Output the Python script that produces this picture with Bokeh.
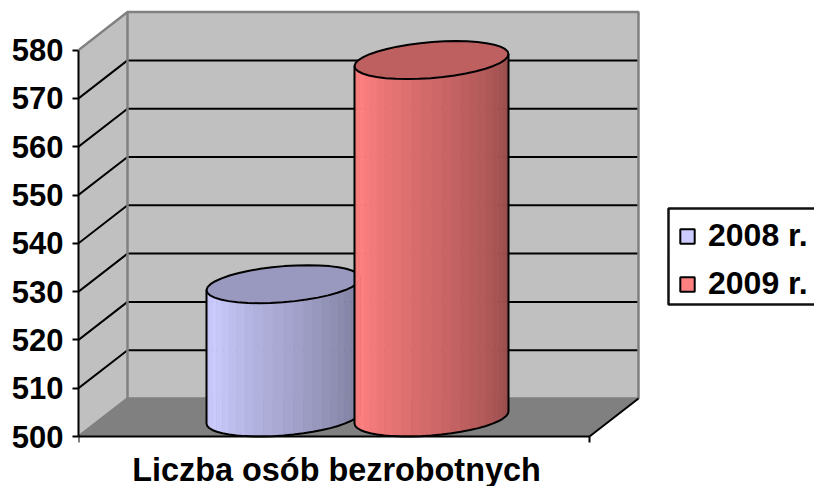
import math
from bokeh.plotting import figure
from bokeh.models import FixedTicker, Legend, LegendItem, Range1d, Label
from bokeh.embed import file_html
from bokeh.resources import INLINE

category = "Liczba osób bezrobotnych"
years = ["2008 r.", "2009 r."]
values = [527.6, 574.0]
y_ticks = [500, 510, 520, 530, 540, 550, 560, 570, 580]
bar_colors = [(204, 204, 255), (255, 128, 128)]
top_colors = ["#9999BF", "#BF6060"]

FONT = "Liberation Sans"
PX_PER_UNIT = 4.83
PLOT_W = 511
DX = 49
DV = 38 / PX_PER_UNIT
RX = 73
BAR_STEP = 148
Y0, Y1 = y_ticks[0], y_ticks[-1]

p = figure(width=814, height=486, output_backend="svg", toolbar_location=None,
           x_range=Range1d(0, 736), y_range=Range1d(Y0 - 50 / PX_PER_UNIT, Y0 + 436 / PX_PER_UNIT),
           min_border_left=78, min_border_right=0, min_border_top=0, min_border_bottom=0,
           background_fill_color="white", border_fill_color="white", outline_line_color=None)
p.grid.visible = False

# walls and floor
p.patch([0, DX, DX, 0], [Y0, Y0 + DV, Y1 + DV, Y1], fill_color="#C0C0C0", line_color=None)
p.patch([DX, PLOT_W + DX, PLOT_W + DX, DX], [Y0 + DV, Y0 + DV, Y1 + DV, Y1 + DV],
        fill_color="#C0C0C0", line_color=None)
p.patch([0, PLOT_W, PLOT_W + DX, DX], [Y0, Y0, Y0 + DV, Y0 + DV], fill_color="#808080", line_color=None)

for t in y_ticks[1:-1]:
    p.line([0, DX, PLOT_W + DX], [t, t + DV, t + DV], line_color="black", line_width=2)

edge = dict(line_color="#808080", line_width=2.5)
p.line([0, DX, PLOT_W + DX, PLOT_W + DX, DX, 0], [Y1, Y1 + DV, Y1 + DV, Y0 + DV, Y0 + DV, Y0], **edge)
p.line([DX, DX], [Y0 + DV, Y1 + DV], **edge)
p.line([PLOT_W, PLOT_W + DX], [Y0, Y0 + DV], line_color="black", line_width=2)


def pt(cx, val, ang):
    """Circle in the horizontal plane, projected obliquely."""
    return (cx + RX * math.cos(ang) + 0.5 * DX * math.sin(ang) + 0.5 * DX,
            val + 0.5 * DV + 0.5 * DV * math.sin(ang))


def shade(rgb, f):
    if f < 0.12:
        k = 0.93 + 0.07 * f / 0.12
    else:
        k = 1.0 - 0.42 * (f - 0.12) / 0.88
    return "#%02x%02x%02x" % tuple(int(c * k) for c in rgb)


PHI = math.atan2(0.5 * DX, RX)
N = 24
centers = [PLOT_W / 2 - 1 - BAR_STEP / 2, PLOT_W / 2 - 1 + BAR_STEP / 2]

for cx, val, rgb, top in zip(centers, values, bar_colors, top_colors):
    angs = [math.pi + PHI + math.pi * i / N for i in range(N + 1)]
    for i in range(N):
        a, b = angs[i], angs[i + 1]
        xa, ya = pt(cx, val, a)
        xb, yb = pt(cx, val, b)
        xc, yc = pt(cx, Y0, b)
        xd, yd = pt(cx, Y0, a)
        col = shade(rgb, i / (N - 1))
        p.patch([xa, xb, xc, xd], [ya, yb, yc, yd], fill_color=col, line_color=col, line_width=0.6)
    ring = [pt(cx, val, 2 * math.pi * i / 40) for i in range(41)]
    p.patch([q[0] for q in ring], [q[1] for q in ring], fill_color=top, line_color="black", line_width=2)
    low = [pt(cx, Y0, a) for a in angs]
    sx0, sy0 = pt(cx, val, angs[0])
    sx1, sy1 = pt(cx, val, angs[-1])
    p.line([sx0] + [q[0] for q in low] + [sx1], [sy0] + [q[1] for q in low] + [sy1],
           line_color="black", line_width=2)

# axes
ya = p.yaxis[0]
ya.ticker = FixedTicker(ticks=y_ticks)
ya.bounds = (Y0, Y1)
ya.axis_line_color = "black"
ya.axis_line_width = 2
ya.major_tick_line_color = "black"
ya.major_tick_line_width = 2
ya.major_tick_out = 6
ya.major_tick_in = 0
ya.minor_tick_line_color = None
ya.major_label_standoff = 9
ya.major_label_text_font = FONT
ya.major_label_text_font_style = "bold"
ya.major_label_text_font_size = "31px"
ya.major_label_text_color = "black"

xa_ = p.xaxis[0]
xa_.fixed_location = Y0
xa_.ticker = FixedTicker(ticks=[0, PLOT_W])
xa_.bounds = (0, PLOT_W)
xa_.axis_line_color = "black"
xa_.axis_line_width = 2
xa_.major_tick_line_color = "black"
xa_.major_tick_line_width = 2
xa_.major_tick_out = 6
xa_.major_tick_in = 0
xa_.minor_tick_line_color = None
xa_.major_label_overrides = {0: "", PLOT_W: ""}
xa_.major_label_text_font_size = "1px"
xa_.major_label_standoff = 0

p.add_layout(Label(x=PLOT_W / 2 + 2.5, y=Y0 - 33 / PX_PER_UNIT, text=category, text_align="center",
                   text_baseline="middle", text_font=FONT, text_font_style="bold",
                   text_font_size="32.4px", text_color="black"))

# legend box (bleeds off the right edge as in the source)
p.quad(left=[590], right=[900], bottom=[Y0 + 132 / PX_PER_UNIT], top=[Y0 + 228 / PX_PER_UNIT],
       fill_color="white", line_color="#111111", line_width=2.5)

items = []
for yr, rgb in zip(years, bar_colors):
    r = p.quad(left=[float("nan")], right=[float("nan")], top=[float("nan")], bottom=[float("nan")],
               fill_color="#%02x%02x%02x" % rgb, line_color="black", line_width=2)
    items.append(LegendItem(label=yr, renderers=[r]))
leg = Legend(items=items, location=(600, 184), glyph_width=18, glyph_height=18,
             label_text_font=FONT, label_text_font_style="bold", label_text_font_size="32px",
             label_text_color="black", label_standoff=12, padding=11, spacing=11, margin=0,
             border_line_color=None, background_fill_alpha=0.0)
p.add_layout(leg, "center")

open("out.html", "w").write(file_html(p, INLINE))
